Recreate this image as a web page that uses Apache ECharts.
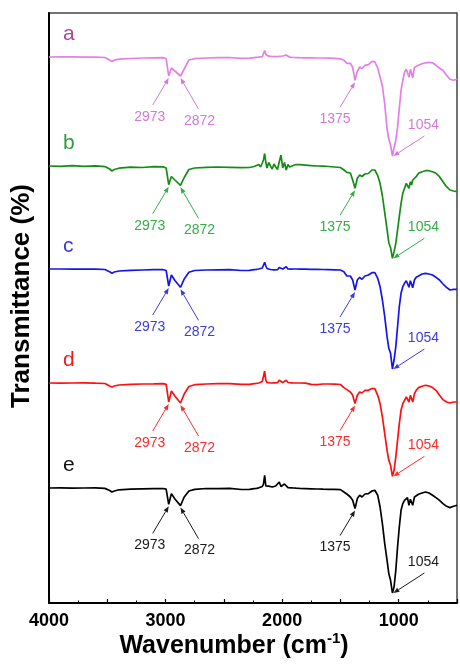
<!DOCTYPE html>
<html>
<head>
<meta charset="utf-8">
<script src="https://cdn.jsdelivr.net/npm/echarts@6/dist/echarts.min.js"></script>
<style>
  html, body { margin: 0; padding: 0; background: #fff; }
  #chart { width: 460px; height: 664px; }
</style>
</head>
<body>
<div id="chart"></div>
<script>
// FTIR spectra of five samples (a–e), stacked vertically.
const wavenumbers = [
  4000, 3900, 3800, 3700, 3600, 3520, 3480, 3460, 3440, 3400,
  3300, 3200, 3100, 3020, 2995, 2973, 2950, 2920, 2872, 2840,
  2800, 2750, 2650, 2550, 2450, 2350, 2280, 2240, 2220, 2200,
  2185, 2170, 2160, 2150, 2140, 2130, 2115, 2100, 2085, 2070,
  2055, 2040, 2025, 2010, 1995, 1980, 1965, 1950, 1935, 1920,
  1900, 1880, 1850, 1800, 1750, 1700, 1650, 1600, 1550, 1500,
  1470, 1445, 1430, 1415, 1395, 1375, 1355, 1335, 1315, 1290,
  1260, 1230, 1205, 1180, 1160, 1140, 1120, 1100, 1085, 1070,
  1054, 1040, 1025, 1010, 995, 980, 965, 950, 935, 925,
  912, 900, 890, 880, 865, 850, 830, 800, 770, 740,
  710, 680, 650, 620, 590, 560, 530, 500
];

const transA = [
  100, 100.1, 100.2, 99.8, 99.9, 99.5, 97, 95.4, 96.8, 97.8,
  98.5, 99, 99.2, 99.3, 98.5, 81, 89, 86, 81, 88,
  97, 98.3, 99, 99.3, 99.5, 98.6, 98.8, 99.4, 99.6, 99.8,
  100.2, 100.5, 102, 106.5, 102.5, 101, 100.8, 100.3, 100.5, 99.8,
  100.4, 100.1, 100.6, 100.2, 101, 100.3, 102, 100.2, 99.8, 99.6,
  99.5, 99.4, 99.3, 99.2, 99.1, 99, 99, 98.8, 98.6, 98.2,
  96.7, 93.7, 94.7, 93.7, 89.7, 76.7, 85.7, 90, 88.4, 91.7,
  92.4, 95.7, 95.2, 89, 80, 70.7, 53, 28, 18, 12,
  1, 9, 16.7, 29.7, 48.7, 66.7, 76.7, 84.7, 87.7, 86.7,
  79.7, 87.7, 83.7, 79.2, 89.7, 90.7, 91.7, 93.2, 94.2, 94.7,
  94.2, 91.7, 88.7, 86.7, 81.7, 77.7, 76.7, 77.7
];

const transB = [
  100, 99.6, 100.3, 99.7, 100.2, 99.4, 97, 95, 96.5, 97.8,
  98.8, 98.5, 99.3, 99.1, 98, 81.3, 89.5, 86, 80.7, 88.5,
  96.5, 98, 98.6, 99, 98.7, 98.4, 98.5, 99.5, 100.5, 101.5,
  99, 103, 106, 112.5, 104, 98, 103.5, 100, 97, 102,
  99, 96.5, 104, 111, 98, 103.5, 96, 101.5, 99, 100.5,
  100.8, 101.5, 101.3, 100.8, 100.3, 100, 99.8, 99.5, 99, 98.5,
  96, 93.7, 94.5, 93, 86, 77.7, 87.7, 91, 89.5, 92,
  92.5, 96, 96, 90.3, 82.7, 70, 53.3, 36.7, 23.3, 18.3,
  7.7, 14.3, 22.7, 36, 49.3, 62.7, 72.7, 77.7, 82.7, 84.3,
  77.7, 84.3, 81, 86, 86, 89.3, 92.7, 94.3, 95.3, 95.3,
  94.3, 92.7, 89.3, 84.3, 79.3, 76, 75, 74.3
];

const transC = [
  100, 100, 99.8, 100, 99.8, 99.5, 97.3, 95.7, 97, 98,
  98.7, 99, 99.3, 99.3, 98.5, 83, 94, 88.5, 81.7, 90,
  96.7, 98.5, 99, 99.2, 99.3, 98.5, 98.6, 99.3, 99.6, 100,
  100.5, 101, 103, 106.7, 103, 100.5, 101, 99.5, 100, 99.2,
  100.5, 99.3, 101.5, 102.3, 100, 101, 102.3, 100, 99.6, 99.8,
  100, 100, 99.8, 99.8, 99.7, 99.6, 99.5, 99.4, 99.2, 99,
  97.3, 93, 94, 93, 89, 79, 89, 91.7, 89.7, 93,
  94, 96.3, 96.3, 90.7, 82.3, 69, 52.3, 32.3, 20.7, 15.7,
  0, 9, 22.3, 42.3, 62.3, 75.7, 82.3, 85.7, 88.3, 89,
  81.7, 88.3, 85, 81.3, 89, 91.7, 93, 95, 95.7, 95,
  94, 91.7, 89, 85, 81.7, 79, 79.7, 79.7
];

const transD = [
  100, 99.8, 100, 100.2, 99.8, 99.5, 97, 96, 97, 98,
  98.7, 99, 99.2, 99.4, 98.6, 81, 92, 87, 80, 89,
  96.5, 98.3, 99, 99.3, 99.4, 98.6, 98.6, 99.3, 99.6, 100,
  100.5, 101.5, 103, 112, 102.7, 100.5, 101.5, 100, 101, 100.2,
  101.5, 100.3, 102.7, 101, 100.5, 101.5, 102.7, 100.5, 100, 100.2,
  100, 100, 100, 99.8, 98.6, 98.4, 99, 99, 98.8, 98.5,
  95.4, 93.4, 94, 91, 87.7, 79.4, 87.7, 91, 90, 92.7,
  92.7, 94.4, 94.4, 87.7, 79.4, 66, 49.4, 32.7, 22.7, 17.7,
  6.7, 12.7, 26, 42.7, 59.4, 72.7, 79.4, 82.7, 86, 87.7,
  81, 87.7, 84.4, 81, 89.4, 92.7, 95.4, 96.7, 97.7, 97,
  95.4, 92.7, 87.7, 83.4, 81, 80, 81, 81
];

const transE = [
  100, 100.2, 99.8, 100, 100.1, 99.6, 97.5, 96, 97, 98.2,
  98.8, 99.2, 99.4, 99.5, 98.8, 83.7, 94.4, 89, 82.4, 91,
  97, 98.6, 99.5, 99.4, 99.6, 98.5, 98.6, 99.4, 99.7, 100.2,
  100.8, 101.5, 104, 112.7, 102, 100.5, 101.8, 100.2, 101, 100.3,
  102, 104, 106, 101.5, 100.5, 104, 102, 100.3, 99.8, 100.2,
  100, 99.8, 99.6, 99.4, 99.2, 99, 98.8, 98.7, 98.6, 98.4,
  96, 94, 94.5, 91, 87.7, 79.4, 89.4, 92.7, 91, 94,
  94.4, 97, 97.7, 92.7, 81, 64.4, 44.4, 27.7, 14.4, 7.7,
  -5, 1, 17.7, 41, 61, 77.7, 84.4, 87.7, 89.4, 90.4,
  82.7, 88.7, 87.7, 82.7, 91, 92.7, 93.7, 95, 96, 95,
  92.7, 90.4, 87.7, 84.4, 81.7, 80.4, 81.7, 82.7
];

const sampleNames = ['a', 'b', 'c', 'd', 'e'];
const stackOffsets = [446, 337, 234, 120, 15];
const peakWavenumbers = [2973, 2872, 1375, 1054];
const xTickLabels = [4000, 3000, 2000, 1000];

const spectra = [transA, transB, transC, transD, transE];

// styling
const FONT = '"Liberation Sans", Arial, Helvetica, sans-serif';
const curveColors   = ['#e67ee8', '#168c16', '#1414f0', '#ff0f0f', '#000000'];
const letterColors  = ['#a9479f', '#2f9e3a', '#3a3ad8', '#f01c1c', '#111111'];
const calloutColors = ['#d27ad8', '#34ad48', '#3c3ce0', '#ff2b2b', '#1a1a1a'];

// arrow tail / text offsets (px) relative to the marked point
const calloutLayout = {
  2973: { tipShift: [0, 2],  tail: [-16, 27], text: [-19, 39] },
  2872: { tipShift: [0, 2],  tail: [18, 31],  text: [19, 43] },
  1375: { tipShift: [0, 2],  tail: [-15, 25], text: [-20, 37] },
  1054: { tipShift: [1, 0],  tail: [31, -20], text: [30, -31] }
};

const chart = echarts.init(document.getElementById('chart'), null, { renderer: 'canvas' });

const series = spectra.map((trans, k) => ({
  name: sampleNames[k],
  type: 'line',
  showSymbol: false,
  silent: true,
  smooth: false,
  lineStyle: { color: curveColors[k], width: 1.7 },
  itemStyle: { color: curveColors[k] },
  data: wavenumbers.map((w, i) => [w, trans[i] + stackOffsets[k]])
}));

chart.setOption({
  animation: false,
  backgroundColor: '#fff',
  grid: {
    left: 49, right: 1, top: 13, bottom: 61,
    show: true, borderColor: '#444', borderWidth: 1.5, backgroundColor: 'transparent'
  },
  xAxis: {
    type: 'value', inverse: true, min: 500, max: 4000, interval: 500,
    axisLine: { show: true, onZero: false, lineStyle: { color: '#000', width: 2 } },
    axisTick: { show: true, inside: true, length: 4, lineStyle: { color: '#000', width: 1.2 } },
    minorTick: { show: true, splitNumber: 2, length: 2.5, lineStyle: { color: '#000', width: 1 } },
    splitLine: { show: false },
    axisLabel: {
      formatter: v => (xTickLabels.indexOf(v) >= 0 ? String(v) : ''),
      fontFamily: FONT, fontSize: 18, fontWeight: 'bold', color: '#000', margin: 9,
      showMinLabel: true, showMaxLabel: true
    }
  },
  yAxis: {
    type: 'value', min: 0, max: 590,
    axisLine: { show: true, lineStyle: { color: '#000', width: 2 } },
    axisTick: { show: false }, axisLabel: { show: false }, splitLine: { show: false }
  },
  series: series
});

// annotations: sample letters, peak arrows and peak labels
function valueAt(k, w) {
  const i = wavenumbers.indexOf(w);
  return spectra[k][i] + stackOffsets[k];
}

const graphics = [];

sampleNames.forEach((name, k) => {
  const p = chart.convertToPixel({ gridIndex: 0 }, [3880, 100 + stackOffsets[k]]);
  graphics.push({
    type: 'text', x: p[0], y: p[1] - 12.5, silent: true,
    style: { text: name, font: '21px ' + FONT, fill: letterColors[k], align: 'left', verticalAlign: 'bottom' }
  });

  peakWavenumbers.forEach(w => {
    const lay = calloutLayout[w];
    const pt = chart.convertToPixel({ gridIndex: 0 }, [w, valueAt(k, w)]);
    const tip = [pt[0] + lay.tipShift[0], pt[1] + lay.tipShift[1]];
    const tail = [tip[0] + lay.tail[0], tip[1] + lay.tail[1]];
    const dx = tip[0] - tail[0], dy = tip[1] - tail[1];
    const len = Math.sqrt(dx * dx + dy * dy);
    const ux = dx / len, uy = dy / len;
    const headL = 6, headW = 2.4;
    const bx = tip[0] - ux * headL, by = tip[1] - uy * headL;
    graphics.push({
      type: 'line', silent: true,
      shape: { x1: tail[0], y1: tail[1], x2: bx, y2: by },
      style: { stroke: calloutColors[k], lineWidth: 1 }
    });
    graphics.push({
      type: 'polygon', silent: true,
      shape: { points: [tip, [bx - uy * headW, by + ux * headW], [bx + uy * headW, by - ux * headW]] },
      style: { fill: calloutColors[k] }
    });
    graphics.push({
      type: 'text', silent: true,
      x: tip[0] + lay.text[0], y: tip[1] + lay.text[1],
      style: { text: String(w), font: '14px ' + FONT, fill: calloutColors[k], align: 'center', verticalAlign: 'middle' }
    });
  });
});

// axis titles
graphics.push({
  type: 'text', silent: true, x: 234, y: 646,
  style: {
    text: '{t|Wavenumber (cm}{s|-1}{t|)}',
    align: 'center', verticalAlign: 'middle',
    rich: {
      t: { fontFamily: FONT, fontSize: 25, fontWeight: 'bold', fill: '#000', lineHeight: 30 },
      s: { fontFamily: FONT, fontSize: 15, fontWeight: 'bold', fill: '#000', verticalAlign: 'top', lineHeight: 30 }
    }
  }
});
graphics.push({
  type: 'text', silent: true, x: 22, y: 296, rotation: Math.PI / 2,
  style: { text: 'Transmittance (%)', font: 'bold 26px ' + FONT, fill: '#000', align: 'center', verticalAlign: 'middle' }
});

chart.setOption({ graphic: graphics });
</script>
</body>
</html>
